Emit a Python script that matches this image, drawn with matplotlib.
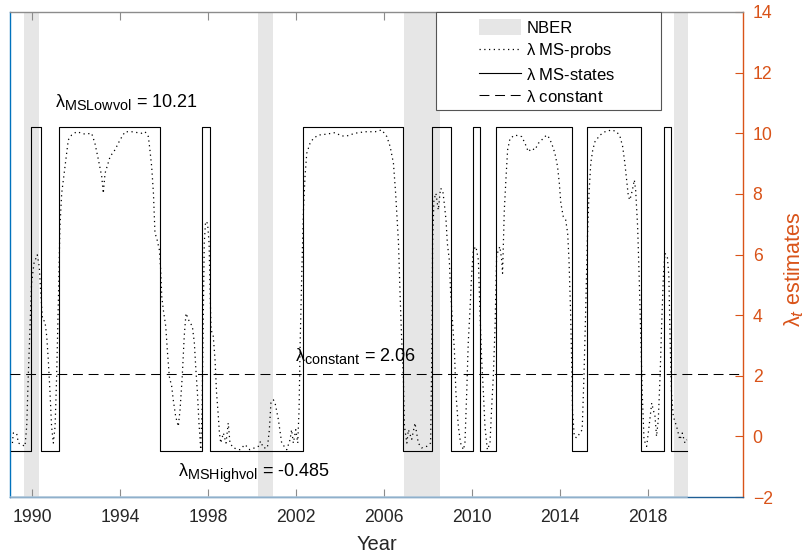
import numpy as np
import matplotlib
matplotlib.use('Agg')
import matplotlib.pyplot as plt
from matplotlib.patches import Patch, Rectangle
from matplotlib.lines import Line2D

plt.rcParams['font.family'] = ['Liberation Sans', 'DejaVu Sans']
plt.rcParams['mathtext.fontset'] = 'custom'
plt.rcParams['mathtext.rm'] = 'Liberation Sans'
plt.rcParams['mathtext.it'] = 'Liberation Sans:italic'
plt.rcParams['mathtext.bf'] = 'Liberation Sans:bold'
try:
    # MATLAB draws its subscripts a bit larger than mathtext does
    import matplotlib._mathtext as _mt
    _mt.SHRINK_FACTOR = 0.8
except Exception:
    pass

# estimated lambdas
lam_low = 10.21
lam_high = -0.485
lam_const = 2.06

# NBER recession shading (start / end on the time axis)
nber_start = [1989.64, 2000.29, 2006.92, 2019.18]
nber_end = [1990.32, 2000.97, 2008.55, 2019.80]

# MS-states: switching dates, 1 = low-vol regime, 0 = high-vol regime
state_years = [1989.05, 1989.95, 1990.41, 1991.24, 1995.83, 1997.74, 1998.09,
               2002.33, 2006.88, 2008.20, 2009.03, 2010.06, 2010.36, 2011.08,
               2014.53, 2015.21, 2017.67, 2018.74, 2019.05, 2019.76]
state_low = [0, 1, 0, 1, 0, 1, 0, 1, 0, 1, 0, 1, 0, 1, 0, 1, 0, 1, 0, 0]

# MS-probs (probability weighted lambda)
prob_years = [1989.11, 1989.15, 1989.30, 1989.38, 1989.53, 1989.68, 1989.76, 1989.83,
              1989.91, 1989.98, 1990.09, 1990.24, 1990.33, 1990.41, 1990.48, 1990.59,
              1990.67, 1990.74, 1990.82, 1990.89, 1990.97, 1991.05, 1991.12, 1991.20,
              1991.27, 1991.35, 1991.50, 1991.65, 1991.80, 1992.03, 1992.41, 1992.71,
              1992.86, 1993.02, 1993.17, 1993.24, 1993.32, 1993.55, 1993.77, 1994.00,
              1994.23, 1994.53, 1994.98, 1995.14, 1995.29, 1995.36, 1995.44, 1995.52,
              1995.55, 1995.59, 1995.67, 1995.79, 1995.85, 1995.90, 1995.97, 1996.08,
              1996.15, 1996.24, 1996.35, 1996.42, 1996.53, 1996.65, 1996.73, 1996.83,
              1996.92, 1997.00, 1997.15, 1997.29, 1997.38, 1997.45, 1997.52, 1997.59,
              1997.67, 1997.73, 1997.79, 1997.83, 1997.89, 1997.98, 1998.05, 1998.09,
              1998.14, 1998.24, 1998.32, 1998.39, 1998.47, 1998.52, 1998.58, 1998.70,
              1998.82, 1998.92, 1999.00, 1999.15, 1999.45, 1999.68, 1999.90, 2000.29,
              2000.39, 2000.52, 2000.70, 2000.79, 2000.86, 2000.97, 2001.05, 2001.20,
              2001.35, 2001.58, 2001.73, 2001.80, 2001.88, 2001.99, 2002.08, 2002.14,
              2002.19, 2002.26, 2002.34, 2002.41, 2002.49, 2002.64, 2002.79, 2003.02,
              2003.39, 2003.77, 2004.08, 2004.31, 2004.68, 2005.14, 2005.60, 2005.90,
              2006.13, 2006.28, 2006.43, 2006.53, 2006.66, 2006.73, 2006.81, 2006.88,
              2006.93, 2007.04, 2007.11, 2007.26, 2007.41, 2007.56, 2007.71, 2007.94,
              2008.12, 2008.18, 2008.21, 2008.27, 2008.36, 2008.47, 2008.57, 2008.67,
              2008.74, 2008.82, 2008.88, 2008.97, 2009.03, 2009.12, 2009.20, 2009.27,
              2009.38, 2009.48, 2009.61, 2009.68, 2009.76, 2009.83, 2009.91, 2009.98,
              2010.06, 2010.18, 2010.29, 2010.36, 2010.44, 2010.52, 2010.59, 2010.70,
              2010.82, 2010.89, 2010.97, 2011.05, 2011.12, 2011.20, 2011.27, 2011.35,
              2011.39, 2011.47, 2011.55, 2011.62, 2011.73, 2011.95, 2012.26, 2012.41,
              2012.56, 2012.71, 2012.86, 2013.02, 2013.17, 2013.39, 2013.47, 2013.62,
              2013.77, 2013.89, 2013.97, 2014.04, 2014.15, 2014.26, 2014.35, 2014.41,
              2014.48, 2014.53, 2014.57, 2014.65, 2014.76, 2014.91, 2015.01, 2015.09,
              2015.17, 2015.24, 2015.32, 2015.40, 2015.49, 2015.59, 2015.82, 2016.05,
              2016.35, 2016.58, 2016.73, 2016.85, 2016.95, 2017.03, 2017.11, 2017.18,
              2017.29, 2017.38, 2017.44, 2017.53, 2017.60, 2017.68, 2017.74, 2017.82,
              2017.94, 2018.05, 2018.17, 2018.24, 2018.32, 2018.39, 2018.47, 2018.55,
              2018.62, 2018.70, 2018.77, 2018.88, 2018.95, 2019.01, 2019.07, 2019.15,
              2019.30, 2019.45, 2019.56, 2019.68, 2019.76]
prob_vals = [-0.22, 0.11, 0.11, -0.22, -0.27, -0.33, 0.33, 1.98,
             3.63, 5.05, 5.71, 5.99, 5.60, 4.60, 3.85, 3.79,
             3.30, 2.53, 1.43, 0.33, -0.22, 0.33, 1.98, 4.50,
             6.92, 8.02, 8.90, 9.78, 9.94, 10.05, 9.97, 10.00,
             9.67, 9.12, 8.57, 8.02, 8.68, 9.23, 9.45, 9.78,
             10.05, 10.05, 10.00, 10.05, 9.89, 9.45, 8.90, 8.02,
             7.47, 6.70, 6.54, 6.15, 5.49, 4.60, 4.17, 3.63,
             2.86, 1.98, 1.65, 1.21, 0.66, 0.33, 0.88, 1.98,
             3.30, 4.06, 3.79, 3.63, 3.08, 2.20, 1.43, 0.44,
             -0.44, 0.88, 4.17, 6.37, 7.09, 7.03, 6.37, 4.95,
             3.52, 3.30, 2.53, 1.43, 0.66, 0.11, -0.22, 0.11,
             -0.22, 0.44, -0.22, -0.38, -0.44, -0.27, -0.44, -0.33,
             -0.16, -0.38, -0.38, 0.22, 1.10, 1.21, 1.10, 0.55,
             -0.22, -0.44, -0.11, 0.22, -0.22, 0.22, -0.22, 0.88,
             3.08, 5.27, 7.47, 8.57, 9.34, 9.67, 9.83, 9.94,
             9.97, 10.02, 9.91, 9.91, 10.00, 10.05, 10.05, 10.11,
             9.89, 9.56, 9.01, 8.02, 6.37, 4.72, 3.08, 1.98,
             0.33, -0.22, 0.22, -0.10, 0.44, -0.22, -0.38, -0.33,
             -0.22, 3.08, 6.37, 7.80, 8.02, 7.47, 8.18, 8.12,
             7.69, 7.14, 6.37, 5.82, 4.72, 3.74, 2.86, 1.43,
             0.33, -0.22, -0.44, -0.22, 1.43, 3.08, 4.17, 5.27,
             6.15, 6.26, 5.82, 4.17, 2.53, 1.43, 0.33, -0.44,
             -0.22, 0.88, 1.98, 3.63, 5.93, 6.15, 6.26, 5.82,
             5.38, 7.47, 8.57, 9.45, 9.83, 9.94, 9.89, 9.67,
             9.39, 9.50, 9.45, 9.67, 9.78, 9.94, 9.89, 9.67,
             9.34, 8.90, 8.35, 7.69, 7.25, 7.14, 6.70, 5.82,
             4.17, 2.53, 0.88, 0.00, -0.05, 0.11, 0.22, 1.98,
             4.17, 6.37, 8.02, 9.01, 9.45, 9.72, 9.94, 10.05,
             10.11, 10.05, 9.89, 9.56, 9.01, 8.46, 7.91, 7.80,
             8.12, 8.46, 8.12, 6.92, 5.27, 3.08, 1.43, -0.11,
             -0.33, 0.33, 1.10, 0.88, 0.66, 0.00, 0.55, 1.98,
             3.63, 5.27, 6.04, 5.93, 5.27, 3.08, 1.43, 0.66,
             0.33, -0.11, 0.11, -0.22, -0.11]

x_ticks = [1990, 1994, 1998, 2002, 2006, 2010, 2014, 2018]
y_ticks = [-2, 0, 2, 4, 6, 8, 10, 12, 14]

blue = '#0072BD'
orange = '#D95319'
txt = '#262626'
gray = '#e6e6e6'

states = np.where(np.array(state_low) == 1, lam_low, lam_high)
dots = (0, (1, 2.8))

fig = plt.figure(figsize=(8.06, 5.59), dpi=100)
ax = fig.add_axes([10/806, 1 - 497/559, 733/806, 485/559])

for s, e in zip(nber_start, nber_end):
    ax.axvspan(s, e, color=gray, lw=0, zorder=0)

ax.plot(prob_years, prob_vals, color='k', lw=0.9, linestyle=dots, zorder=2)
ax.plot(state_years, states, color='k', lw=0.8, drawstyle='steps-post', zorder=3)
ax.axhline(lam_const, color='k', lw=0.75, dashes=(9.5, 5.5), zorder=3)
ax.set_xlim(1989.0, 2022.32)
ax.set_ylim(-2, 14)

# bottom line: light over the data span, dark after
ax.plot([state_years[0], state_years[-1]], [-2, -2], color='#b2c9dc', lw=1.1,
        clip_on=False, zorder=4)

ax.set_xticks(x_ticks)
ax.set_yticks(y_ticks)
ax.yaxis.tick_right()
ax.yaxis.set_label_position('right')
ax.tick_params(axis='x', direction='in', length=6, width=0.8, color='#8c8c8c',
               labelsize=12.7, labelcolor=txt, pad=9, top=True)
ax.tick_params(axis='y', direction='in', length=6, width=0.8, color=orange,
               labelsize=12.7, labelcolor=orange, pad=7, left=False, right=True)
for side in ['left', 'right', 'top', 'bottom']:
    ax.spines[side].set_linewidth(1.0)
ax.spines['left'].set_color(blue)
ax.spines['bottom'].set_color('#1f5f95')
ax.spines['top'].set_color('#8c8c8c')
ax.spines['right'].set_color(orange)

ax.set_xlabel('Year', fontsize=14.5, color=txt, labelpad=6)
ax.set_ylabel(r'$\mathrm{\lambda}_t$ estimates', fontsize=15.5, color=orange,
              rotation=90)
ax.yaxis.set_label_coords(1.054, 0.47)

ax.text(1991.05, 10.85, r'$\mathrm{\lambda}_{\mathrm{MSLowvol}}$ = %.2f' % lam_low,
        fontsize=13, color='k', va='baseline')
ax.text(2001.95, 2.50, r'$\mathrm{\lambda}_{\mathrm{constant}}$ = %.2f' % lam_const,
        fontsize=13, color='k', va='baseline')
ax.text(1996.65, -1.295, r'$\mathrm{\lambda}_{\mathrm{MSHighvol}}$ = %.3f' % lam_high,
        fontsize=13, color='k', va='baseline')

# legend with MATLAB style frame
ax.add_patch(Rectangle((0.5812, 0.798), 0.8877 - 0.5812, 1.0 - 0.798,
                       transform=ax.transAxes, facecolor='white', edgecolor='#555555',
                       lw=0.8, zorder=4.9, clip_on=False))
handles = [Patch(facecolor=gray, edgecolor='none'),
           Line2D([], [], color='k', lw=0.9, linestyle=dots),
           Line2D([], [], color='k', lw=0.8),
           Line2D([], [], color='k', lw=0.75, dashes=(9.5, 5.5))]
labels = [r'NBER', r'$\mathrm{\lambda}$ MS-probs', r'$\mathrm{\lambda}$ MS-states',
          r'$\mathrm{\lambda}$ constant']
leg = ax.legend(handles, labels, loc='upper left', bbox_to_anchor=(0.6398, 0.985),
                frameon=False, fontsize=12, borderpad=0, borderaxespad=0,
                handlelength=2.55, handleheight=1.1, handletextpad=0.3,
                labelspacing=0.33)
leg.set_zorder(5)

fig.savefig('out.png', dpi=100)
